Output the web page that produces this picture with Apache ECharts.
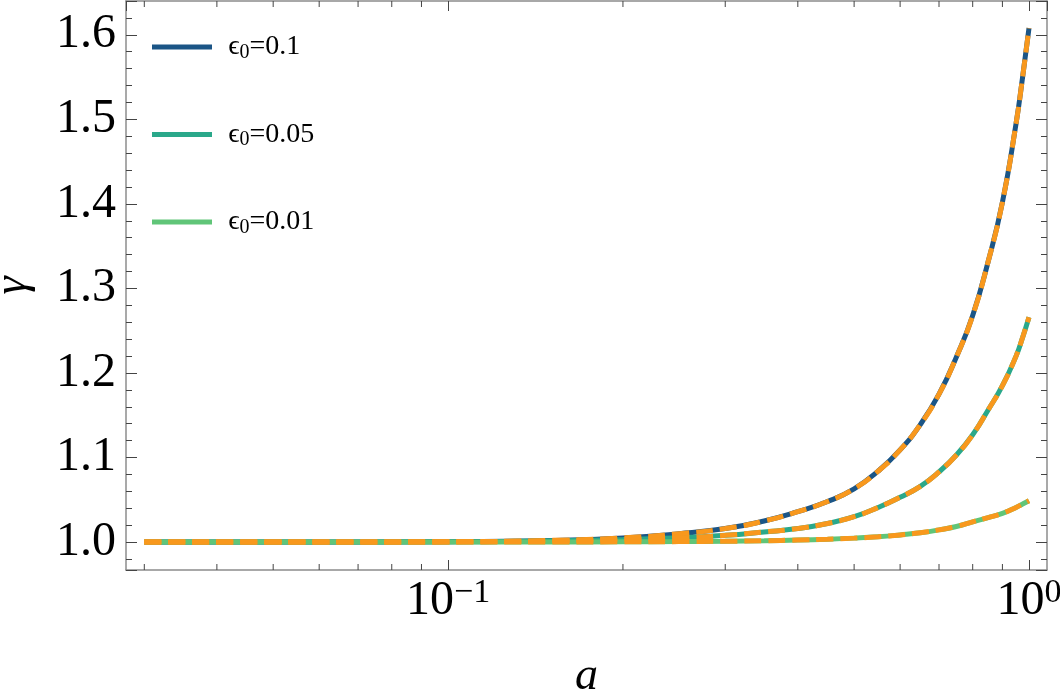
<!DOCTYPE html>
<html>
<head>
<meta charset="utf-8">
<script src="https://cdn.jsdelivr.net/npm/echarts@6/dist/echarts.min.js"></script>
<style>
  html, body { margin: 0; padding: 0; background: #fff; }
  #chart { width: 1060px; height: 694px; }
</style>
</head>
<body>
<div id="chart"></div>
<script>
// scale factor a (log axis) and gamma
const aValues = [0.03, 0.05, 0.1, 0.15, 0.2, 0.25, 0.3, 0.35, 0.4, 0.45, 0.5, 0.55, 0.6, 0.65, 0.7, 0.75, 0.8, 0.85, 0.9, 0.95, 0.975, 1.0]
const gammaEps01 = [1.0, 1.0, 1.0005, 1.002, 1.005, 1.010, 1.016, 1.025, 1.036, 1.048, 1.063, 1.084, 1.109, 1.139, 1.175, 1.219, 1.268, 1.331, 1.402, 1.495, 1.550, 1.608]
const gammaEps005 = [1.0, 1.0, 1.0003, 1.0015, 1.003, 1.005, 1.008, 1.012, 1.016, 1.022, 1.030, 1.041, 1.053, 1.066, 1.083, 1.103, 1.127, 1.156, 1.185, 1.220, 1.242, 1.266]
const gammaEps001 = [1.0, 1.0, 1.0, 1.0001, 1.0003, 1.0006, 1.001, 1.0016, 1.0024, 1.0034, 1.0047, 1.0063, 1.0085, 1.011, 1.0145, 1.0185, 1.024, 1.029, 1.034, 1.041, 1.045, 1.049]

const seriesNames = ['eps01', 'eps005', 'eps001']
const legendLabels = ['0.1', '0.05', '0.01']
const lineColors = ['#1b5586', '#2aa88a', '#60c578']
const fitColor = '#f8981d'

// minor ticks of the log axis (majors are the powers of ten)
const xMinorTicks = [0.03, 0.04, 0.05, 0.06, 0.07, 0.08, 0.09, 0.2, 0.3, 0.4, 0.5, 0.6, 0.7, 0.8, 0.9]

const X_MIN = 0.0279
const X_MAX = 1.074
const Y_MIN = 0.967
const Y_MAX = 1.640

const FONT = '"Liberation Serif", "DejaVu Serif", serif'
const frameColor = '#8c8c8c'
const tickColor = '#444'

const pairs = (ys) => aValues.map((a, i) => [a, ys[i]])
const isPow10 = (v) => Math.abs(Math.log10(v) - Math.round(Math.log10(v))) < 1e-6

const xAxisOf = (position, extra = {}) => ({
  type: 'log',
  logBase: 10,
  position: position,
  min: X_MIN,
  max: X_MAX,
  axisLine: { show: true, lineStyle: { color: frameColor, width: 1.5 } },
  axisTick: { show: true, inside: true, length: 10, lineStyle: { color: tickColor, width: 1 } },
  axisLabel: { show: false },
  splitLine: { show: false },
  minorTick: { show: false },
  ...extra
})

const yAxisOf = (position, extra = {}) => ({
  type: 'value',
  position: position,
  min: Y_MIN,
  max: Y_MAX,
  splitNumber: 7,
  axisLine: { show: true, lineStyle: { color: frameColor, width: 1.5 } },
  axisTick: { show: true, inside: true, length: 11, lineStyle: { color: tickColor, width: 1 } },
  minorTick: { show: true, splitNumber: 5, length: 6, lineStyle: { color: tickColor, width: 1 } },
  axisLabel: { show: false },
  splitLine: { show: false },
  minorSplitLine: { show: false },
  ...extra
})

const chart = echarts.init(document.getElementById('chart'), null, { renderer: 'canvas' })

const solidSeries = [gammaEps01, gammaEps005, gammaEps001].map((ys, i) => ({
  name: seriesNames[i],
  type: 'line',
  data: pairs(ys),
  showSymbol: false,
  smooth: 0.5,
  lineStyle: { color: lineColors[i], width: 5 },
  itemStyle: { color: lineColors[i] },
  z: 2
}))

const fitSeries = [gammaEps01, gammaEps005, gammaEps001].map((ys, i) => ({
  name: 'fit' + i,
  type: 'line',
  data: pairs(ys),
  showSymbol: false,
  smooth: 0.5,
  lineStyle: { color: fitColor, width: 5, type: [17, 7], cap: 'butt' },
  itemStyle: { color: fitColor },
  z: 3
}))

// short minor ticks on the log axis, bottom and top, placed through the axis scale
const minorTickSeries = {
  name: 'xMinorTicks',
  type: 'custom',
  silent: true,
  clip: false,
  z: 5,
  data: xMinorTicks.map((v) => [v]),
  encode: { x: 0 },
  renderItem: (params, api) => {
    const v = api.value(0)
    const b = api.coord([v, Y_MIN])
    const t = api.coord([v, Y_MAX])
    const style = { stroke: tickColor, lineWidth: 1 }
    return {
      type: 'group',
      children: [
        { type: 'line', shape: { x1: b[0], y1: b[1], x2: b[0], y2: b[1] - 6 }, style: style },
        { type: 'line', shape: { x1: t[0], y1: t[1], x2: t[0], y2: t[1] + 6 }, style: style }
      ]
    }
  }
}

const option = {
  animation: false,
  backgroundColor: '#fff',
  grid: { left: 126, right: 13, top: 1, bottom: 124, outerBoundsMode: 'none', containLabel: false },
  legend: {
    data: seriesNames,
    orient: 'vertical',
    left: 152,
    top: 32,
    padding: 0,
    itemGap: 57,
    itemWidth: 60,
    itemHeight: 5,
    icon: 'rect',
    formatter: (name) => {
      const k = seriesNames.indexOf(name)
      return '{t|\u2009\u2009}{e|\u03f5}{s|0}{t|=' + legendLabels[k] + '}'
    },
    textStyle: {
      color: '#000',
      fontFamily: FONT,
      fontSize: 28,
      lineHeight: 30,
      rich: {
        e: { fontFamily: FONT, fontSize: 28, color: '#000' },
        s: { fontFamily: FONT, fontSize: 20, color: '#000', padding: [11, 0, 0, 0] },
        t: { fontFamily: FONT, fontSize: 28, color: '#000' }
      }
    }
  },
  xAxis: [
    xAxisOf('bottom', {
      name: 'a',
      nameLocation: 'middle',
      nameGap: 84,
      nameTextStyle: { fontFamily: FONT, fontStyle: 'italic', fontSize: 46, color: '#000' },
      axisLabel: {
        show: true,
        margin: 6,
        showMinLabel: false,
        showMaxLabel: false,
        formatter: (v) => isPow10(v) ? '{b|10}{s|' + (v < 0.5 ? '\u22121' : '0') + '}' : '',
        rich: {
          b: { fontFamily: FONT, fontSize: 48, color: '#000', verticalAlign: 'bottom' },
          s: { fontFamily: FONT, fontSize: 34, color: '#000', verticalAlign: 'bottom', padding: [0, 0, 15, 0] }
        }
      }
    }),
    xAxisOf('top')
  ],
  yAxis: [
    yAxisOf('left', {
      name: '\u03b3',
      nameLocation: 'middle',
      nameGap: 90,
      nameTextStyle: { fontFamily: FONT, fontStyle: 'italic', fontSize: 46, color: '#000' },
      axisLabel: {
        show: true,
        margin: 10,
        showMinLabel: false,
        showMaxLabel: false,
        formatter: (v) => v.toFixed(1),
        fontFamily: FONT,
        fontSize: 48,
        color: '#000'
      }
    }),
    yAxisOf('right')
  ],
  series: [...solidSeries, ...fitSeries, minorTickSeries]
}

chart.setOption(option)
</script>
</body>
</html>
